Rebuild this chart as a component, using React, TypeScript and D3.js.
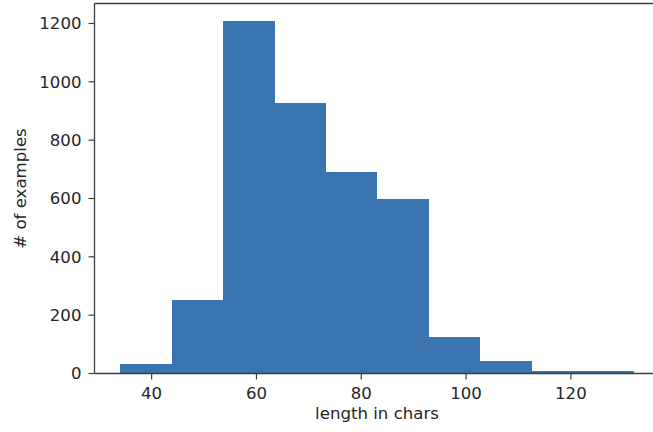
import React from 'react';
import * as d3 from 'd3';

// histogram of text lengths: 10 bins between the min and max length
const binStart = 34;
const binEnd = 132;
const counts = [31, 251, 1208, 928, 690, 597, 124, 42, 9, 8];
const xTicks = [40, 60, 80, 100, 120];
const yTicks = [0, 200, 400, 600, 800, 1000, 1200];

const W = 653;
const H = 432;
const margin = { top: 3.5, left: 94.5, bottom: 373.5 };
const font = "'DejaVu Sans', sans-serif";
const fontSize = 16.6;
const barColor = '#3a75af';
const axisColor = '#3d3d3d';
const textColor = '#262626';

export default function App() {
  const binW = (binEnd - binStart) / counts.length;
  const bins = counts.map((c, i) => ({
    x0: binStart + i * binW,
    x1: binStart + (i + 1) * binW,
    count: c,
  }));

  // matplotlib style 5% padding on x, top padding on y
  const pad = (binEnd - binStart) * 0.05;
  const pxPerUnit = 5.241;
  const xMin = binStart - pad;
  const xMax = binEnd + pad;
  const x = d3.scaleLinear()
    .domain([xMin, xMax])
    .range([margin.left, margin.left + (xMax - xMin) * pxPerUnit]);

  const yMax = d3.max(counts)! * 1.05;
  const y = d3.scaleLinear()
    .domain([0, yMax])
    .range([margin.bottom, margin.top]);

  const right = x(xMax);

  return (
    <svg width={W} height={H} style={{ position: 'absolute', left: 0, top: 0, background: '#fff' }}>
      {/* bars */}
      <g shapeRendering="crispEdges">
        {bins.map((b, i) => (
          <rect
            key={i}
            x={x(b.x0)}
            y={y(b.count)}
            width={x(b.x1) - x(b.x0) + 0.5}
            height={y(0) - y(b.count)}
            fill={barColor}
          />
        ))}
      </g>

      {/* spines */}
      <line x1={margin.left} x2={margin.left} y1={margin.top} y2={margin.bottom} stroke={axisColor} strokeWidth={1.3} />
      <line x1={margin.left} x2={right} y1={margin.bottom} y2={margin.bottom} stroke={axisColor} strokeWidth={1.3} />
      <line x1={margin.left} x2={right} y1={margin.top} y2={margin.top} stroke={axisColor} strokeWidth={1.3} />
      <line x1={right} x2={right} y1={margin.top} y2={margin.bottom} stroke={axisColor} strokeWidth={1.3} />

      {/* y axis */}
      <g fontFamily={font} fontSize={fontSize} fill={textColor}>
        {yTicks.map(t => (
          <g key={t} transform={`translate(0,${y(t)})`}>
            <line x1={margin.left - 6} x2={margin.left} stroke={axisColor} strokeWidth={1.2} />
            <text x={margin.left - 13} dy="0.36em" textAnchor="end">{t}</text>
          </g>
        ))}
        <text
          transform={`translate(26,${(margin.top + margin.bottom) / 2}) rotate(-90)`}
          textAnchor="middle"
        >
          # of examples
        </text>
      </g>

      {/* x axis */}
      <g fontFamily={font} fontSize={fontSize} fill={textColor}>
        {xTicks.map(t => (
          <g key={t} transform={`translate(${x(t)},0)`}>
            <line y1={margin.bottom} y2={margin.bottom + 6} stroke={axisColor} strokeWidth={1.2} />
            <text y={margin.bottom + 25} textAnchor="middle">{t}</text>
          </g>
        ))}
        <text x={377} y={419} textAnchor="middle">length in chars</text>
      </g>
    </svg>
  );
}
